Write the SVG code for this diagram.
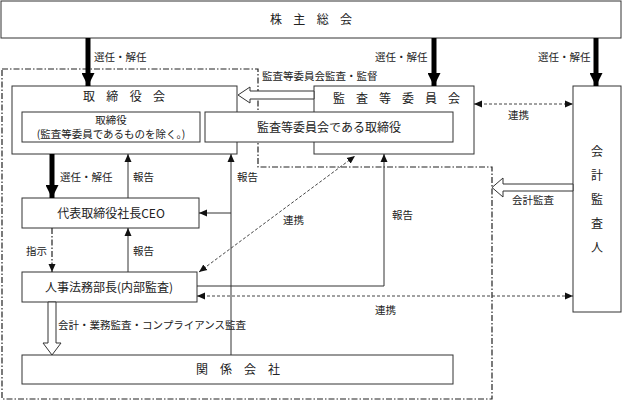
<svg xmlns="http://www.w3.org/2000/svg" width="623" height="402" viewBox="0 0 623 402">
<style>
.box{fill:#fff;stroke:#333;stroke-width:1}
.t{font-family:"Noto Sans CJK JP","Noto Sans",sans-serif;font-size:12px;fill:#222}
.s{font-family:"Noto Sans CJK JP","Noto Sans",sans-serif;font-size:10.5px;fill:#222}
.l{font-family:"Noto Sans CJK JP","Noto Sans",sans-serif;font-size:10.5px;fill:#222}
.ln{fill:none;stroke:#333;stroke-width:1}
.dash{fill:none;stroke:#444;stroke-width:1;stroke-dasharray:3 2}
.dd{fill:none;stroke:#222;stroke-width:1.2;stroke-dasharray:6 2 1.5 2}
.thick{fill:none;stroke:#000;stroke-width:5}
.hollow{fill:#fff;stroke:#333;stroke-width:1}
</style>
<defs>
<marker id="ah" markerUnits="userSpaceOnUse" markerWidth="8" markerHeight="8" viewBox="0 0 8 8" refX="8" refY="4" orient="auto-start-reverse">
<path d="M0,0.5 L8,4 L0,7.5 Z" fill="#111"/>
</marker>
<marker id="big" markerUnits="userSpaceOnUse" markerWidth="13" markerHeight="13" viewBox="0 0 13 13" refX="13" refY="6.5" orient="auto">
<path d="M0,0 L13,6.5 L0,13 Z" fill="#000"/>
</marker>
</defs>

<path class="dd" d="M2 69 H258 V167 H492 V399 H2 Z"/>

<g id="shareholders">
<rect class="box" x="1" y="1" width="620" height="37"/>
<text class="t" x="270 293.3 316.7 340" y="24">株主総会</text>
</g>

<g id="board">
<rect class="box" x="12" y="86" width="225" height="68"/>
<text class="t" x="83 106.3 129.7 153" y="101">取締役会</text>
<rect class="box" x="22" y="112" width="178" height="30"/>
<text class="s" text-anchor="middle"><tspan x="111" y="123.5">取締役</tspan><tspan x="111" y="137.5">(監査等委員であるものを除く。)</tspan></text>
</g>

<g id="audit-committee">
<rect class="box" x="314" y="86" width="160" height="68"/>
<text class="t" x="333 356 379 402 425 448" y="103">監査等委員会</text>
</g>

<g id="audit-directors">
<rect class="box" x="205" y="112" width="248" height="30"/>
<text class="t" x="329" y="132" text-anchor="middle">監査等委員会である取締役</text>
</g>

<g id="accounting-auditor">
<rect class="box" x="573" y="86" width="48" height="226"/>
<text class="t" x="591" y="156">会</text>
<text class="t" x="591" y="180">計</text>
<text class="t" x="591" y="204">監</text>
<text class="t" x="591" y="228">査</text>
<text class="t" x="591" y="252">人</text>
</g>

<g id="ceo">
<rect class="box" x="22" y="198" width="177" height="30"/>
<text class="t" x="111" y="218" text-anchor="middle">代表取締役社長CEO</text>
</g>

<g id="hr-legal">
<rect class="box" x="22" y="272" width="175" height="30"/>
<text class="t" x="109" y="292" text-anchor="middle">人事法務部長(内部監査)</text>
</g>

<g id="affiliates">
<rect class="box" x="22" y="355" width="431" height="29"/>
<text class="t" x="196 220 244 268" y="374">関係会社</text>
</g>

<g id="connectors">
<line class="thick" x1="88" y1="38" x2="88" y2="86" marker-end="url(#big)"/>
<line class="thick" x1="434" y1="38" x2="434" y2="86" marker-end="url(#big)"/>
<line class="thick" x1="596" y1="38" x2="596" y2="86" marker-end="url(#big)"/>
<line class="thick" x1="52" y1="154" x2="52" y2="198" marker-end="url(#big)"/>

<polygon class="hollow" points="314,91 250,91 250,87 238,95 250,103 250,99 314,99"/>
<polygon class="hollow" points="573,184 503,184 503,178 492,187.5 503,197 503,191 573,191"/>
<polygon class="hollow" points="48,302 48,343 43,343 52,355 61,343 56,343 56,302"/>

<line class="ln" x1="128" y1="198" x2="128" y2="154" marker-end="url(#ah)"/>
<line class="ln" x1="231" y1="355" x2="231" y2="154" marker-end="url(#ah)"/>
<line class="ln" x1="231" y1="213" x2="199" y2="213" marker-end="url(#ah)"/>
<line class="ln" x1="128" y1="272" x2="128" y2="228" marker-end="url(#ah)"/>
<line class="dd" x1="52" y1="228" x2="52" y2="272" marker-end="url(#ah)"/>
<path class="ln" d="M197 286 H384 V154" marker-end="url(#ah)"/>
<line class="dash" x1="474" y1="104" x2="573" y2="104" marker-start="url(#ah)" marker-end="url(#ah)"/>
<line class="dash" x1="197" y1="296" x2="573" y2="296" marker-start="url(#ah)" marker-end="url(#ah)"/>
<line class="dash" x1="199" y1="272" x2="355" y2="156" marker-start="url(#ah)" marker-end="url(#ah)"/>

<text class="l" x="94" y="61">選任・解任</text>
<text class="l" x="375" y="61">選任・解任</text>
<text class="l" x="538" y="61">選任・解任</text>
<text class="l" x="262" y="80">監査等委員会監査・監督</text>
<text class="l" x="60" y="181">選任・解任</text>
<text class="l" x="133" y="181">報告</text>
<text class="l" x="237" y="181">報告</text>
<text class="l" x="508" y="119">連携</text>
<text class="l" x="512" y="204">会計監査</text>
<text class="l" x="283" y="224">連携</text>
<text class="l" x="392" y="219">報告</text>
<text class="l" x="26" y="255">指示</text>
<text class="l" x="133" y="255">報告</text>
<text class="l" x="375" y="314">連携</text>
<text class="l" x="58" y="329">会計・業務監査・コンプライアンス監査</text>
</g>
</svg>
